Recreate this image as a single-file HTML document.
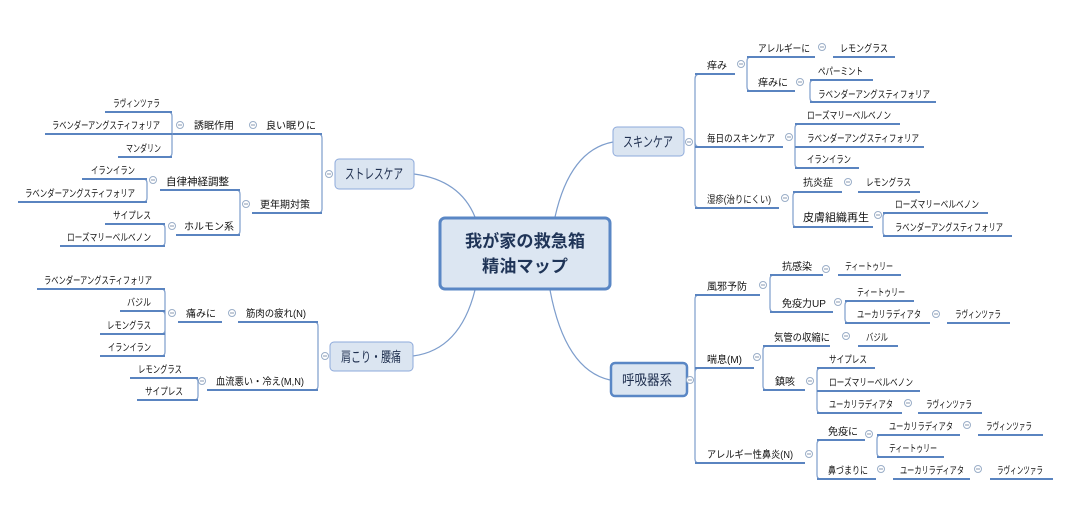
<!DOCTYPE html>
<html><head><meta charset="utf-8"><style>
body{margin:0;background:#fff;width:1073px;height:505px;overflow:hidden}
svg{display:block}
text{font-family:"Liberation Sans","Noto Sans CJK JP",sans-serif;font-size:10px;fill:#111}
.l{stroke:#5a84c0;stroke-width:2}
.c{stroke:#7d9dcc;stroke-width:1.2;fill:none}
.o{fill:#fff;stroke:#9aaec8;stroke-width:1}
.m{stroke:#8a9ab0;stroke-width:1}
.t{font-size:14px;fill:#1f2f4f}
</style></head><body>
<svg width="1073" height="505" viewBox="0 0 1073 505">
<defs>
<g id="k"><circle class="o" r="3.5"/><line class="m" x1="-2" y1="0" x2="2" y2="0"/></g>
</defs>
<path class="c" d="M555 217 Q570 150 613 142"/>
<path class="c" d="M475 217 Q460 180 414 174"/>
<path class="c" d="M475 290 Q460 350 413 356"/>
<path class="c" d="M550 290 Q565 370 610 380"/>
<rect x="440" y="218" width="170" height="71" rx="5" fill="#dce6f2" stroke="#5a87c5" stroke-width="3"/>
<text x="525" y="247" text-anchor="middle" textLength="120" lengthAdjust="spacingAndGlyphs" style="font-size:17px;fill:#1f3457;font-weight:bold">我が家の救急箱</text>
<text x="525" y="272" text-anchor="middle" textLength="86" lengthAdjust="spacingAndGlyphs" style="font-size:17px;fill:#1f3457;font-weight:bold">精油マップ</text>
<rect x="335" y="159" width="79" height="30" rx="4" fill="#dbe5f1" stroke="#8eaadb"/>
<text class="t" x="345" y="179" textLength="58" lengthAdjust="spacingAndGlyphs">ストレスケア</text>
<rect x="330" y="342" width="83" height="29" rx="4" fill="#dbe5f1" stroke="#8eaadb"/>
<text class="t" x="341" y="362" textLength="60" lengthAdjust="spacingAndGlyphs">肩こり・腰痛</text>
<rect x="613" y="127" width="71" height="29" rx="4" fill="#dbe5f1" stroke="#8eaadb"/>
<text class="t" x="623" y="147" textLength="50" lengthAdjust="spacingAndGlyphs">スキンケア</text>
<rect x="611" y="363" width="76" height="33" rx="4" fill="#dbe5f1" stroke="#5a87c5" stroke-width="2.5"/>
<text class="t" x="622" y="385" textLength="50" lengthAdjust="spacingAndGlyphs">呼吸器系</text>

<use href="#k" x="689" y="142"/>
<path class="c" d="M695 142 V79 Q695 74 700 74 M695 142 V204 Q695 208 700 208 M695 142 Q695 147 700 147"/>
<line class="l" x1="695" y1="74" x2="735" y2="74"/><text x="707" y="69">痒み</text>
<use href="#k" x="741" y="64"/>
<path class="c" d="M747 74 V61 Q747 57 751 57 M747 74 V87 Q747 91 751 91"/>
<line class="l" x1="747" y1="57" x2="815" y2="57"/><text x="758" y="52" textLength="52" lengthAdjust="spacingAndGlyphs">アレルギーに</text>
<use href="#k" x="822" y="47"/>
<line class="l" x1="833" y1="57" x2="895" y2="57"/><text x="840" y="52" textLength="48" lengthAdjust="spacingAndGlyphs">レモングラス</text>
<line class="l" x1="747" y1="91" x2="795" y2="91"/><text x="758" y="86">痒みに</text>
<use href="#k" x="800" y="82"/>
<path class="c" d="M810 91 V84 Q810 80 814 80 M810 91 V98 Q810 102 814 102"/>
<line class="l" x1="810" y1="80" x2="873" y2="80"/><text x="818" y="75" textLength="45" lengthAdjust="spacingAndGlyphs">ペパーミント</text>
<line class="l" x1="810" y1="102" x2="936" y2="102"/><text x="818" y="98" textLength="112" lengthAdjust="spacingAndGlyphs">ラベンダーアングスティフォリア</text>
<line class="l" x1="695" y1="147" x2="783" y2="147"/><text x="707" y="142" textLength="68" lengthAdjust="spacingAndGlyphs">毎日のスキンケア</text>
<use href="#k" x="789" y="137"/>
<path class="c" d="M795 147 V128 Q795 124 799 124 M795 147 V164 Q795 168 799 168"/>
<line class="l" x1="795" y1="124" x2="900" y2="124"/><text x="807" y="119" textLength="84" lengthAdjust="spacingAndGlyphs">ローズマリーベルベノン</text>
<line class="l" x1="795" y1="147" x2="924" y2="147"/><text x="807" y="142" textLength="112" lengthAdjust="spacingAndGlyphs">ラベンダーアングスティフォリア</text>
<line class="l" x1="795" y1="168" x2="859" y2="168"/><text x="807" y="163" textLength="44" lengthAdjust="spacingAndGlyphs">イランイラン</text>
<line class="l" x1="695" y1="208" x2="779" y2="208"/><text x="707" y="203" textLength="64" lengthAdjust="spacingAndGlyphs">湿疹(治りにくい)</text>
<use href="#k" x="785" y="198"/>
<path class="c" d="M793 208 V196 Q793 192 797 192 M793 208 V223 Q793 227 797 227"/>
<line class="l" x1="793" y1="192" x2="842" y2="192"/><text x="803" y="186">抗炎症</text>
<use href="#k" x="848" y="182"/>
<line class="l" x1="858" y1="192" x2="920" y2="192"/><text x="866" y="186" textLength="45" lengthAdjust="spacingAndGlyphs">レモングラス</text>
<line class="l" x1="793" y1="227" x2="873" y2="227"/><text x="803" y="221" style="font-size:11px">皮膚組織再生</text>
<use href="#k" x="878" y="215"/>
<path class="c" d="M883 227 V217 Q883 213 887 213 M883 227 V232 Q883 236 887 236"/>
<line class="l" x1="883" y1="213" x2="988" y2="213"/><text x="895" y="208" textLength="84" lengthAdjust="spacingAndGlyphs">ローズマリーベルベノン</text>
<line class="l" x1="883" y1="236" x2="1012" y2="236"/><text x="895" y="231" textLength="108" lengthAdjust="spacingAndGlyphs">ラベンダーアングスティフォリア</text>

<use href="#k" x="690" y="380"/>
<path class="c" d="M695 380 V299 Q695 295 699 295 M695 380 V459 Q695 463 699 463 M695 380 V372 Q695 368 699 368"/>
<line class="l" x1="695" y1="295" x2="760" y2="295"/><text x="707" y="290">風邪予防</text>
<use href="#k" x="763" y="285"/>
<path class="c" d="M770 295 V279 Q770 275 774 275 M770 295 V308 Q770 312 774 312"/>
<line class="l" x1="770" y1="275" x2="823" y2="275"/><text x="782" y="270">抗感染</text>
<use href="#k" x="826" y="269"/>
<line class="l" x1="838" y1="275" x2="901" y2="275"/><text x="845" y="270" textLength="48" lengthAdjust="spacingAndGlyphs">ティートゥリー</text>
<line class="l" x1="770" y1="312" x2="833" y2="312"/><text x="782" y="307">免疫力UP</text>
<use href="#k" x="838" y="302"/>
<path class="c" d="M845 312 V305 Q845 301 849 301 M845 312 V319 Q845 323 849 323"/>
<line class="l" x1="845" y1="301" x2="914" y2="301"/><text x="857" y="296" textLength="48" lengthAdjust="spacingAndGlyphs">ティートゥリー</text>
<line class="l" x1="845" y1="323" x2="930" y2="323"/><text x="857" y="318" textLength="64" lengthAdjust="spacingAndGlyphs">ユーカリラディアタ</text>
<use href="#k" x="936" y="314"/>
<line class="l" x1="947" y1="323" x2="1010" y2="323"/><text x="955" y="318" textLength="46" lengthAdjust="spacingAndGlyphs">ラヴィンツァラ</text>
<line class="l" x1="695" y1="368" x2="754" y2="368"/><text x="707" y="363">喘息(M)</text>
<use href="#k" x="757" y="357"/>
<path class="c" d="M763 368 V350 Q763 346 767 346 M763 368 V386 Q763 390 767 390"/>
<line class="l" x1="763" y1="346" x2="830" y2="346"/><text x="774" y="341" textLength="56" lengthAdjust="spacingAndGlyphs">気管の収縮に</text>
<use href="#k" x="846" y="336"/>
<line class="l" x1="858" y1="346" x2="898" y2="346"/><text x="866" y="341" textLength="22" lengthAdjust="spacingAndGlyphs">バジル</text>
<line class="l" x1="763" y1="390" x2="805" y2="390"/><text x="775" y="385">鎮咳</text>
<use href="#k" x="810" y="381"/>
<path class="c" d="M817 390 V372 Q817 368 821 368 M817 390 V409 Q817 413 821 413 M817 390 Q817 391 821 391"/>
<line class="l" x1="817" y1="368" x2="875" y2="368"/><text x="829" y="363" textLength="38" lengthAdjust="spacingAndGlyphs">サイプレス</text>
<line class="l" x1="817" y1="391" x2="920" y2="391"/><text x="829" y="386" textLength="84" lengthAdjust="spacingAndGlyphs">ローズマリーベルベノン</text>
<line class="l" x1="817" y1="413" x2="902" y2="413"/><text x="829" y="408" textLength="64" lengthAdjust="spacingAndGlyphs">ユーカリラディアタ</text>
<use href="#k" x="908" y="403"/>
<line class="l" x1="918" y1="413" x2="982" y2="413"/><text x="926" y="408" textLength="46" lengthAdjust="spacingAndGlyphs">ラヴィンツァラ</text>
<line class="l" x1="695" y1="463" x2="805" y2="463"/><text x="707" y="458" textLength="86" lengthAdjust="spacingAndGlyphs">アレルギー性鼻炎(N)</text>
<use href="#k" x="809" y="454"/>
<path class="c" d="M817 463 V444 Q817 440 821 440 M817 463 V475 Q817 479 821 479"/>
<line class="l" x1="817" y1="440" x2="865" y2="440"/><text x="828" y="435">免疫に</text>
<use href="#k" x="869" y="434"/>
<path class="c" d="M877 440 V439 Q877 435 881 435 M877 440 V453 Q877 457 881 457"/>
<line class="l" x1="877" y1="435" x2="960" y2="435"/><text x="889" y="430" textLength="64" lengthAdjust="spacingAndGlyphs">ユーカリラディアタ</text>
<use href="#k" x="967" y="425"/>
<line class="l" x1="978" y1="435" x2="1043" y2="435"/><text x="986" y="430" textLength="46" lengthAdjust="spacingAndGlyphs">ラヴィンツァラ</text>
<line class="l" x1="877" y1="457" x2="944" y2="457"/><text x="889" y="452" textLength="48" lengthAdjust="spacingAndGlyphs">ティートゥリー</text>
<line class="l" x1="817" y1="479" x2="876" y2="479"/><text x="828" y="474" textLength="40" lengthAdjust="spacingAndGlyphs">鼻づまりに</text>
<use href="#k" x="881" y="469"/>
<line class="l" x1="893" y1="479" x2="970" y2="479"/><text x="900" y="474" textLength="64" lengthAdjust="spacingAndGlyphs">ユーカリラディアタ</text>
<use href="#k" x="978" y="469"/>
<line class="l" x1="990" y1="479" x2="1053" y2="479"/><text x="997" y="474" textLength="46" lengthAdjust="spacingAndGlyphs">ラヴィンツァラ</text>

<use href="#k" x="329" y="174"/>
<path class="c" d="M322 174 V138 Q322 134 318 134 M322 174 V209 Q322 213 318 213"/>
<line class="l" x1="245" y1="134" x2="322" y2="134"/><text x="266" y="129">良い眠りに</text>
<use href="#k" x="253" y="125"/>
<line class="l" x1="170" y1="134" x2="245" y2="134"/><text x="194" y="129">誘眠作用</text>
<use href="#k" x="180" y="125"/>
<path class="c" d="M172 134 V116 Q172 112 168 112 M172 134 V153 Q172 157 168 157"/>
<line class="l" x1="105" y1="112" x2="172" y2="112"/><text x="113" y="107" textLength="47" lengthAdjust="spacingAndGlyphs">ラヴィンツァラ</text>
<line class="l" x1="45" y1="134" x2="172" y2="134"/><text x="52" y="129" textLength="108" lengthAdjust="spacingAndGlyphs">ラベンダーアングスティフォリア</text>
<line class="l" x1="118" y1="157" x2="172" y2="157"/><text x="126" y="152" textLength="35" lengthAdjust="spacingAndGlyphs">マンダリン</text>
<line class="l" x1="252" y1="213" x2="322" y2="213"/><text x="260" y="208">更年期対策</text>
<use href="#k" x="246" y="204"/>
<path class="c" d="M240 213 V194 Q240 190 236 190 M240 213 V231 Q240 235 236 235"/>
<line class="l" x1="160" y1="190" x2="240" y2="190"/><text x="166" y="185" style="font-size:10.5px">自律神経調整</text>
<use href="#k" x="153" y="180"/>
<path class="c" d="M147 190 V183 Q147 179 143 179 M147 190 V198 Q147 202 143 202"/>
<line class="l" x1="82" y1="179" x2="147" y2="179"/><text x="91" y="174" textLength="44" lengthAdjust="spacingAndGlyphs">イランイラン</text>
<line class="l" x1="18" y1="202" x2="147" y2="202"/><text x="25" y="197" textLength="110" lengthAdjust="spacingAndGlyphs">ラベンダーアングスティフォリア</text>
<line class="l" x1="176" y1="235" x2="240" y2="235"/><text x="184" y="230">ホルモン系</text>
<use href="#k" x="172" y="226"/>
<path class="c" d="M165 235 V228 Q165 224 161 224 M165 235 V242 Q165 246 161 246"/>
<line class="l" x1="105" y1="224" x2="165" y2="224"/><text x="113" y="219" textLength="38" lengthAdjust="spacingAndGlyphs">サイプレス</text>
<line class="l" x1="60" y1="246" x2="165" y2="246"/><text x="67" y="241" textLength="84" lengthAdjust="spacingAndGlyphs">ローズマリーベルベノン</text>

<use href="#k" x="325" y="356"/>
<path class="c" d="M318 356 V326 Q318 322 314 322 M318 356 V386 Q318 390 314 390"/>
<line class="l" x1="238" y1="322" x2="318" y2="322"/><text x="246" y="317" textLength="60" lengthAdjust="spacingAndGlyphs">筋肉の疲れ(N)</text>
<use href="#k" x="232" y="313"/>
<line class="l" x1="178" y1="322" x2="222" y2="322"/><text x="186" y="317">痛みに</text>
<use href="#k" x="172" y="313"/>
<path class="c" d="M165 322 V293 Q165 289 161 289 M165 322 V315 Q165 311 161 311 M165 322 V330 Q165 334 161 334 M165 322 V352 Q165 356 161 356"/>
<line class="l" x1="37" y1="289" x2="165" y2="289"/><text x="44" y="284" textLength="108" lengthAdjust="spacingAndGlyphs">ラベンダーアングスティフォリア</text>
<line class="l" x1="120" y1="311" x2="165" y2="311"/><text x="127" y="306" textLength="24" lengthAdjust="spacingAndGlyphs">バジル</text>
<line class="l" x1="100" y1="334" x2="165" y2="334"/><text x="107" y="329" textLength="44" lengthAdjust="spacingAndGlyphs">レモングラス</text>
<line class="l" x1="100" y1="356" x2="165" y2="356"/><text x="108" y="351" textLength="43" lengthAdjust="spacingAndGlyphs">イランイラン</text>
<line class="l" x1="207" y1="390" x2="318" y2="390"/><text x="216" y="385" textLength="88" lengthAdjust="spacingAndGlyphs">血流悪い・冷え(M,N)</text>
<use href="#k" x="202" y="381"/>
<path class="c" d="M198 390 V382 Q198 378 194 378 M198 390 V396 Q198 400 194 400"/>
<line class="l" x1="130" y1="378" x2="198" y2="378"/><text x="138" y="373" textLength="44" lengthAdjust="spacingAndGlyphs">レモングラス</text>
<line class="l" x1="137" y1="400" x2="198" y2="400"/><text x="145" y="395" textLength="38" lengthAdjust="spacingAndGlyphs">サイプレス</text>
</svg>
</body></html>
